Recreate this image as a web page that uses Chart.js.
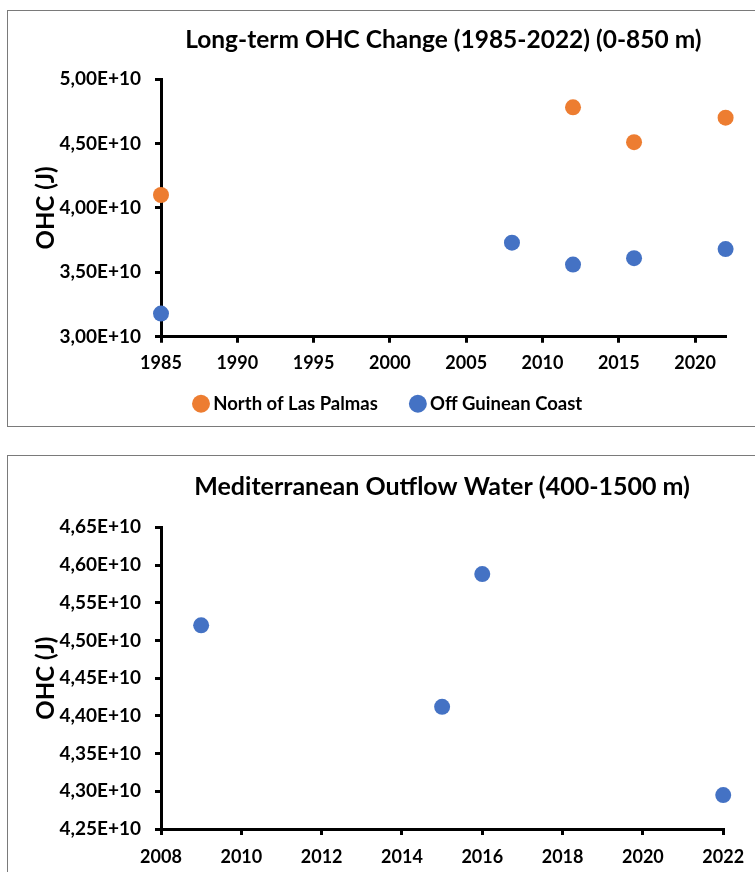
<!DOCTYPE html>
<html>
<head>
<meta charset="utf-8">
<script src="https://cdn.jsdelivr.net/npm/chart.js@4.4.1/dist/chart.umd.min.js"></script>
<style>
  html, body { margin: 0; padding: 0; background: #fff; overflow: hidden; width: 755px; height: 872px; }
  .box { position: absolute; box-sizing: border-box; border: 1.5px solid #7a7a7a; background: #fff; }
  .wrap { position: absolute; }
</style>
</head>
<body>
<div class="box" style="left:7px;top:10px;width:780px;height:417px"></div>
<div class="box" style="left:7px;top:455px;width:780px;height:440px"></div>
<div class="wrap" style="left:7px;top:10px"><canvas id="ohcChart" width="748" height="413"></canvas></div>
<div class="wrap" style="left:7px;top:456px"><canvas id="mowChart" width="748" height="416"></canvas></div>
<script>
// top chart: 0-850 m
const palmasYears = [1985, 2012, 2016, 2022];
const palmasOhc = [4.10e10, 4.78e10, 4.51e10, 4.70e10];
const guineaYears = [1985, 2008, 2012, 2016, 2022];
const guineaOhc = [3.18e10, 3.73e10, 3.56e10, 3.61e10, 3.68e10];
const yearRange1 = [1985, 2022, 5];
const ohcRange1 = [3.0e10, 5.0e10, 0.5e10];

// bottom chart: MOW 400-1500 m
const mowYears = [2009, 2015, 2016, 2022];
const mowOhc = [4.520e10, 4.412e10, 4.588e10, 4.295e10];
const yearRange2 = [2008, 2022, 2];
const ohcRange2 = [4.25e10, 4.65e10, 0.05e10];

const orange = '#ED7D31';
const blue = '#4472C4';

Chart.defaults.font.family = 'Lato';
Chart.defaults.color = '#000';

const pts = (xs, ys) => xs.map((x, i) => ({ x: x, y: ys[i] }));
const fmtOhc = v => (v / 1e10).toFixed(2).replace('.', ',') + 'E+10';

function series(label, xs, ys, color) {
    return {
        label: label,
        data: pts(xs, ys),
        backgroundColor: color,
        borderColor: color,
        pointRadius: 8,
        pointHoverRadius: 8,
        pointBorderWidth: 0,
        clip: false
    };
}

// x axis: xTicks = {padding, mirror, height}
function axes(xr, yr, xTicks) {
    const axisStyle = {
        grid: { drawOnChartArea: false, drawTicks: true, tickLength: 6, color: '#000', lineWidth: 3 },
        border: { color: '#000', width: 3 }
    };
    return {
        x: {
            ...axisStyle,
            min: xr[0], max: xr[1],
            ticks: { stepSize: xr[2], includeBounds: false, padding: xTicks.padding, mirror: xTicks.mirror,
                     font: { size: 18, weight: 'bold' }, callback: v => String(v) },
            afterFit: s => { s.height = xTicks.height; }
        },
        y: {
            ...axisStyle,
            min: yr[0], max: yr[1],
            ticks: { stepSize: yr[2], padding: 14, font: { size: 19, weight: 'bold' }, callback: fmtOhc },
            title: { display: true, text: 'OHC (J)', font: { size: 24, weight: 'bold' }, padding: { top: 25.3, bottom: 0 } },
            afterFit: s => { s.width = 154; }
        }
    };
}

new Chart(document.getElementById('ohcChart'), {
    type: 'scatter',
    data: {
        datasets: [
            series('North of Las Palmas', palmasYears, palmasOhc, orange),
            series('Off Guinean Coast', guineaYears, guineaOhc, blue)
        ]
    },
    options: {
        responsive: false,
        animation: false,
        layout: { padding: { left: 0, right: 29.4, top: 0, bottom: 0 } },
        // mirrored labels are not clipped to the short axis box; negative padding puts them back below the axis
        scales: axes(yearRange1, ohcRange1, { padding: -36.8, mirror: true, height: 20.75 }),
        plugins: {
            title: {
                display: true, fullSize: false,
                text: 'Long-term OHC Change (1985-2022) (0-850 m)',
                font: { size: 24.5, weight: 'bold' },
                padding: { top: 15.3, bottom: 24.3 }
            },
            legend: {
                position: 'bottom', fullSize: false, align: 'start',
                labels: { usePointStyle: true, pointStyle: 'circle', boxWidth: 6, boxHeight: 12.7,
                          padding: 37, font: { size: 18.5, weight: 'bold' } }
            },
            tooltip: { enabled: false }
        }
    }
});

new Chart(document.getElementById('mowChart'), {
    type: 'scatter',
    data: {
        datasets: [series('Mediterranean Outflow Water', mowYears, mowOhc, blue)]
    },
    options: {
        responsive: false,
        animation: false,
        layout: { padding: { left: 0, right: 27.7, top: 0, bottom: 0 } },
        scales: axes(yearRange2, ohcRange2, { padding: 10.9, mirror: false, height: 43 }),
        plugins: {
            title: {
                display: true, fullSize: false,
                text: 'Mediterranean Outflow Water (400-1500 m)',
                font: { size: 25, weight: 'bold' },
                padding: { top: 15.7, bottom: 25.6 }
            },
            legend: { display: false },
            tooltip: { enabled: false }
        }
    }
});
</script>
</body>
</html>
